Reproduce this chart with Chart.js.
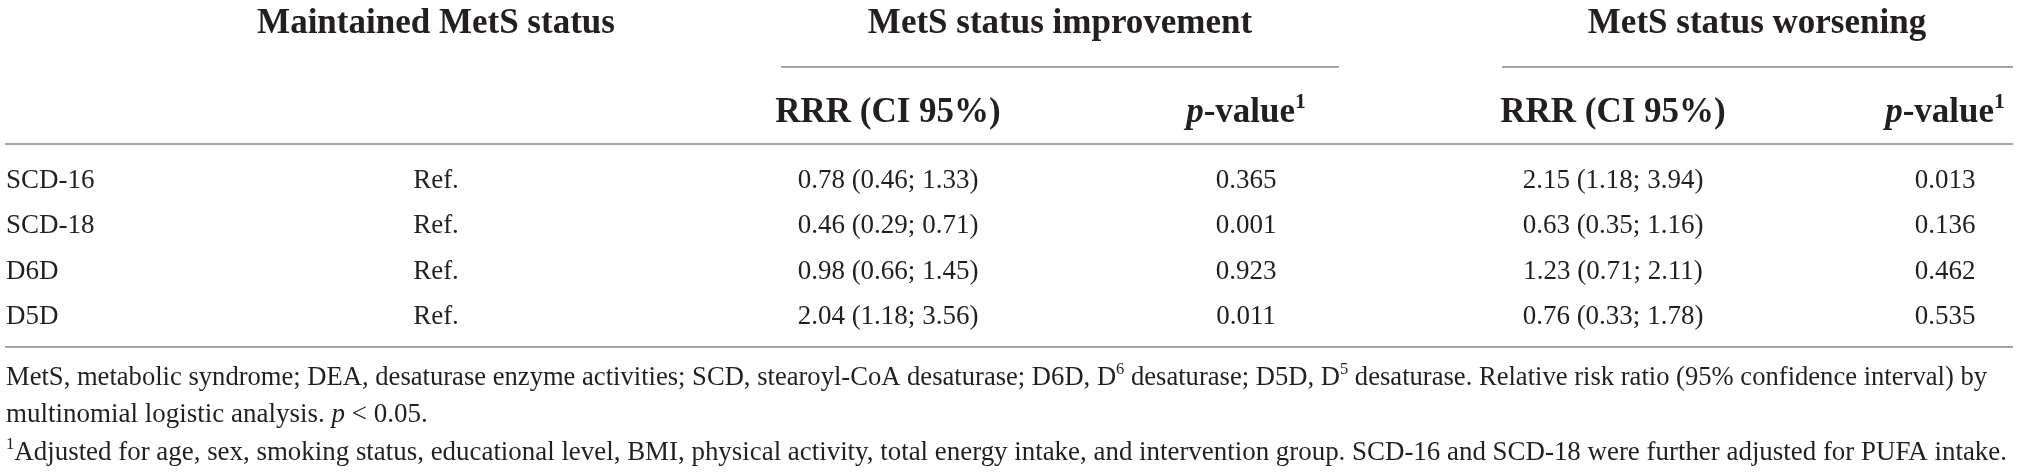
<!DOCTYPE html>
<html>
<head>
<meta charset="utf-8">
<script src="https://cdn.jsdelivr.net/npm/chart.js@4.4.1/dist/chart.umd.min.js"></script>
<style>
  html, body { margin: 0; padding: 0; background: #ffffff; }
  #contenedor { width: 2019px; height: 472px; }
</style>
</head>
<body>
<div id="contenedor"><canvas id="tabla" width="2019" height="472"></canvas></div>
<script>
// datos de la tabla
const filas = ["SCD-16", "SCD-18", "D6D", "D5D"];
const referencia = ["Ref.", "Ref.", "Ref.", "Ref."];
const rrrMejora = ["0.78 (0.46; 1.33)", "0.46 (0.29; 0.71)", "0.98 (0.66; 1.45)", "2.04 (1.18; 3.56)"];
const pMejora = ["0.365", "0.001", "0.923", "0.011"];
const rrrEmpeora = ["2.15 (1.18; 3.94)", "0.63 (0.35; 1.16)", "1.23 (0.71; 2.11)", "0.76 (0.33; 1.78)"];
const pEmpeora = ["0.013", "0.136", "0.462", "0.535"];

const grupos = ["Maintained MetS status", "MetS status improvement", "MetS status worsening"];
const subCabecera = [
    [{ t: "RRR (CI 95%)" }],
    [{ t: "p", it: true }, { t: "-value" }, { t: "1", sup: true }],
    [{ t: "RRR (CI 95%)" }],
    [{ t: "p", it: true }, { t: "-value" }, { t: "1", sup: true }]
];
const notas = [
    [{ t: "MetS, metabolic syndrome; DEA, desaturase enzyme activities; SCD, stearoyl-CoA desaturase; D6D, D" }, { t: "6", sup: true },
     { t: " desaturase; D5D, D" }, { t: "5", sup: true }, { t: " desaturase. Relative risk ratio (95% confidence interval) by" }],
    [{ t: "multinomial logistic analysis. " }, { t: "p", it: true }, { t: " < 0.05." }],
    [{ t: "1", sup: true }, { t: "Adjusted for age, sex, smoking status, educational level, BMI, physical activity, total energy intake, and intervention group. SCD-16 and SCD-18 were further adjusted for PUFA intake." }]
];

// posiciones (unidades de las escalas)
const colX = [6, 436, 888, 1246, 1613, 1945];
const grupoX = [436, 1060, 1757];
const subX = [888, 1246, 1613, 1945];
const filaY0 = 188, filaPaso = 45.3;
const yGrupo = 33, ySub = 122, yNotas = [385, 422, 460];
const anchoNotas = [1981, null, 2001];
const reglas = [
    { x1: 781, x2: 1339, y: 67 },
    { x1: 1502, x2: 2013, y: 67 },
    { x1: 5, x2: 2013, y: 144 },
    { x1: 5, x2: 2013, y: 347 }
];

const FAMILIA = '"Liberation Serif", "DejaVu Serif", serif';
const TINTA = "#231f20";

function fuente(p, base) {
    const tam = p.sup ? base.tam * 0.62 : base.tam;
    return (p.it ? "italic " : "") + (base.negrita ? "bold " : "") + tam + "px " + FAMILIA;
}

function dibujarRico(ctx, partes, x, y, alinear, base, ancho) {
    let total = 0;
    partes.forEach(p => {
        ctx.font = fuente(p, base);
        p.w = ctx.measureText(p.t).width;
        total += p.w;
    });
    const k = ancho ? ancho / total : 1;
    const w = total * k;
    let inicio = alinear === "center" ? x - w / 2 : (alinear === "right" ? x - w : x);
    ctx.save();
    ctx.translate(inicio, y);
    ctx.scale(k, 1);
    let cx = 0;
    partes.forEach(p => {
        ctx.font = fuente(p, base);
        ctx.fillText(p.t, cx, p.sup ? -base.tam * 0.4 : 0);
        cx += p.w;
    });
    ctx.restore();
}

const columnas = [filas, referencia, rrrMejora, pMejora, rrrEmpeora, pEmpeora];

const datasets = columnas.map((col, c) => ({
    label: "col" + c,
    data: col.map((texto, i) => ({ x: colX[c], y: filaY0 + i * filaPaso, texto: texto })),
    pointRadius: 0,
    showLine: false
}));

const pluginTabla = {
    id: "pluginTabla",
    afterDraw(chart) {
        const ctx = chart.ctx;
        const sx = chart.scales.x, sy = chart.scales.y;
        ctx.save();
        ctx.fillStyle = TINTA;
        ctx.textBaseline = "alphabetic";

        // reglas horizontales
        ctx.strokeStyle = "#a3a3a3";
        ctx.lineWidth = 2;
        reglas.forEach(r => {
            ctx.beginPath();
            ctx.moveTo(sx.getPixelForValue(r.x1), sy.getPixelForValue(r.y));
            ctx.lineTo(sx.getPixelForValue(r.x2), sy.getPixelForValue(r.y));
            ctx.stroke();
        });

        // cabeceras
        const cab = { tam: 35, negrita: true };
        grupos.forEach((g, i) => {
            dibujarRico(ctx, [{ t: g }], sx.getPixelForValue(grupoX[i]), sy.getPixelForValue(yGrupo), "center", cab);
        });
        subCabecera.forEach((s, i) => {
            dibujarRico(ctx, s, sx.getPixelForValue(subX[i]), sy.getPixelForValue(ySub), "center", cab);
        });

        // celdas
        const cuerpo = { tam: 27, negrita: false };
        chart.data.datasets.forEach((ds, c) => {
            const meta = chart.getDatasetMeta(c);
            meta.data.forEach((pt, i) => {
                dibujarRico(ctx, [{ t: ds.data[i].texto }], pt.x, pt.y, c === 0 ? "left" : "center", cuerpo);
            });
        });

        // notas
        notas.forEach((n, i) => {
            dibujarRico(ctx, n, sx.getPixelForValue(6), sy.getPixelForValue(yNotas[i]), "left", cuerpo, anchoNotas[i]);
        });
        ctx.restore();
    }
};

new Chart(document.getElementById("tabla"), {
    type: "scatter",
    data: { datasets: datasets },
    options: {
        responsive: false,
        animation: false,
        events: [],
        layout: { padding: 0 },
        plugins: { legend: { display: false }, tooltip: { enabled: false } },
        scales: {
            x: { type: "linear", min: 0, max: 2019, display: false },
            y: { type: "linear", min: 0, max: 472, reverse: true, display: false }
        }
    },
    plugins: [pluginTabla]
});
</script>
</body>
</html>
